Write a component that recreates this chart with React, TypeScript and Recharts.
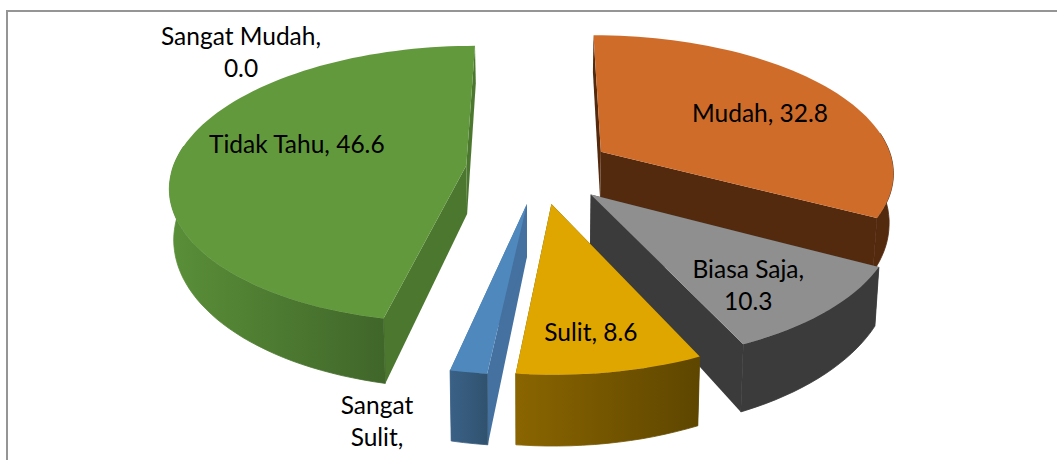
import React from 'react';
import { PieChart, Pie } from 'recharts';

const categories = ['Sangat Mudah', 'Mudah', 'Biasa Saja', 'Sulit', 'Sangat Sulit', 'Tidak Tahu'];
const values = [0.0, 32.8, 10.3, 8.6, 1.7, 46.6];
// the third line of "Sangat Sulit" falls below the picture in the reference
const labelLines = [
  ['Sangat Mudah,', '0.0'],
  ['Mudah, 32.8'],
  ['Biasa Saja,', '10.3'],
  ['Sulit, 8.6'],
  ['Sangat', 'Sulit,'],
  ['Tidak Tahu, 46.6'],
];

const topColors = ['#4f81bd', '#cf6c2a', '#8f8f8f', '#e0a600', '#4f88bd', '#63993d'];
const edgeColors = ['#3b6591', '#542a0f', '#3b3b3b', '#5f4700', '#44719f', '#4b772e'];
const wallFills = ['#3b6591', '#542a0f', '#3b3b3b', 'url(#wallSulit)', 'url(#wallSangatSulit)', 'url(#wallTidakTahu)'];
// shift of each label from the point 60% out along its slice
const labelNudges = [[-298, -14], [19, -1], [22, 23], [6, 32], [-117, 121], [3, -14]];

const rows = categories.map((name, i) => ({ name, value: values[i] }));

const EXPLODE = 0.25;
const PERSPECTIVE = 0.137;
const SQUASH = 0.466;
const DEPTH = 49;
const STEP = 2;

type Pt = [number, number];

const project = (p: any, u: number, v: number, lower = false): Pt => {
  const w = 1 + PERSPECTIVE * v;
  const x = p.cx + (p.outerRadius * u) / w;
  const y = p.cy - (p.outerRadius * SQUASH * v) / w;
  if (!lower) return [x, y];
  return [p.cx + (x - p.cx) * 0.988, y + DEPTH / (w * w)];
};

const rad = (deg: number) => (deg * Math.PI) / 180;

const toPath = (pts: Pt[]) =>
  'M' + pts.map(([x, y]) => `${x.toFixed(1)},${y.toFixed(1)}`).join('L') + 'Z';

const Slice3D = (props: any) => {
  const a0 = 90 - props.startAngle;
  const a1 = 90 - props.endAngle;
  if (a1 - a0 < 0.01) return <g />;
  const i = categories.indexOf(props.name);
  const mid = rad((a0 + a1) / 2);
  const ou = EXPLODE * Math.sin(mid);
  const ov = EXPLODE * Math.cos(mid);
  const rim = (deg: number, lower = false) =>
    project(props, ou + Math.sin(rad(deg)), ov + Math.cos(rad(deg)), lower);

  const angles: number[] = [];
  for (let a = a0; a < a1; a += STEP) angles.push(a);
  angles.push(a1);

  const apexTop = project(props, ou, ov);
  const apexLow = project(props, ou, ov, true);
  const top = [apexTop, ...angles.map((a) => rim(a))];
  const front = angles.filter((a) => Math.cos(rad(a)) <= 0.15);
  const outer = [...front.map((a) => rim(a)), ...front.slice().reverse().map((a) => rim(a, true))];

  return (
    <g>
      <path d={toPath([apexTop, rim(a0), rim(a0, true), apexLow])} fill={edgeColors[i]} />
      <path d={toPath([apexTop, rim(a1), rim(a1, true), apexLow])} fill={edgeColors[i]} />
      {outer.length > 0 && <path d={toPath(outer)} fill={wallFills[i]} stroke={wallFills[i]} strokeWidth={0.8} />}
      <path d={toPath(top)} fill={topColors[i]} />
    </g>
  );
};

const SliceLabel = (props: any) => {
  const i = props.index;
  const mid = rad(90 - props.midAngle);
  const [x, y] = project(props, 0.85 * Math.sin(mid), 0.85 * Math.cos(mid));
  const lines = labelLines[i];
  const lineHeight = 32;
  const first = y + labelNudges[i][1] - ((lines.length - 1) * lineHeight) / 2;
  return (
    <text
      x={x + labelNudges[i][0]}
      y={first}
      textAnchor="middle"
      dominantBaseline="central"
      fontFamily="Lato, sans-serif"
      fontSize={24.5}
      fill="#000"
    >
      {lines.map((line, n) => (
        <tspan key={n} x={x + labelNudges[i][0]} y={first + n * lineHeight}>
          {line}
        </tspan>
      ))}
    </text>
  );
};

export default function App() {
  return (
    <div style={{ position: 'absolute', left: 0, top: 0, width: 1057, height: 460, overflow: 'hidden', background: '#fff' }}>
      <div
        style={{
          position: 'absolute',
          left: 6,
          top: 10,
          right: 0,
          bottom: 0,
          borderTop: '2px solid #959595',
          borderLeft: '2px solid #959595',
        }}
      />
      <PieChart
        width={1057}
        height={460}
        margin={{ top: 0, right: 0, bottom: 0, left: 0 }}
        style={{ position: 'absolute', left: 0, top: 0 }}
      >
        <defs>
          <linearGradient id="wallTidakTahu" x1="0" y1="0" x2="1" y2="0">
            <stop offset="0%" stopColor="#5a8f38" />
            <stop offset="100%" stopColor="#40662a" />
          </linearGradient>
          <linearGradient id="wallSulit" x1="0" y1="0" x2="1" y2="0">
            <stop offset="0%" stopColor="#8a6500" />
            <stop offset="100%" stopColor="#5e4600" />
          </linearGradient>
          <linearGradient id="wallSangatSulit" x1="0" y1="0" x2="1" y2="0">
            <stop offset="0%" stopColor="#3a6186" />
            <stop offset="100%" stopColor="#30526f" />
          </linearGradient>
        </defs>
        <Pie
          data={rows}
          dataKey="value"
          nameKey="name"
          cx={539}
          cy={169}
          outerRadius={293.7}
          startAngle={90}
          endAngle={-270}
          paddingAngle={0}
          stroke="none"
          shape={Slice3D}
          label={SliceLabel}
          labelLine={false}
          isAnimationActive={false}
        />
      </PieChart>
    </div>
  );
}
